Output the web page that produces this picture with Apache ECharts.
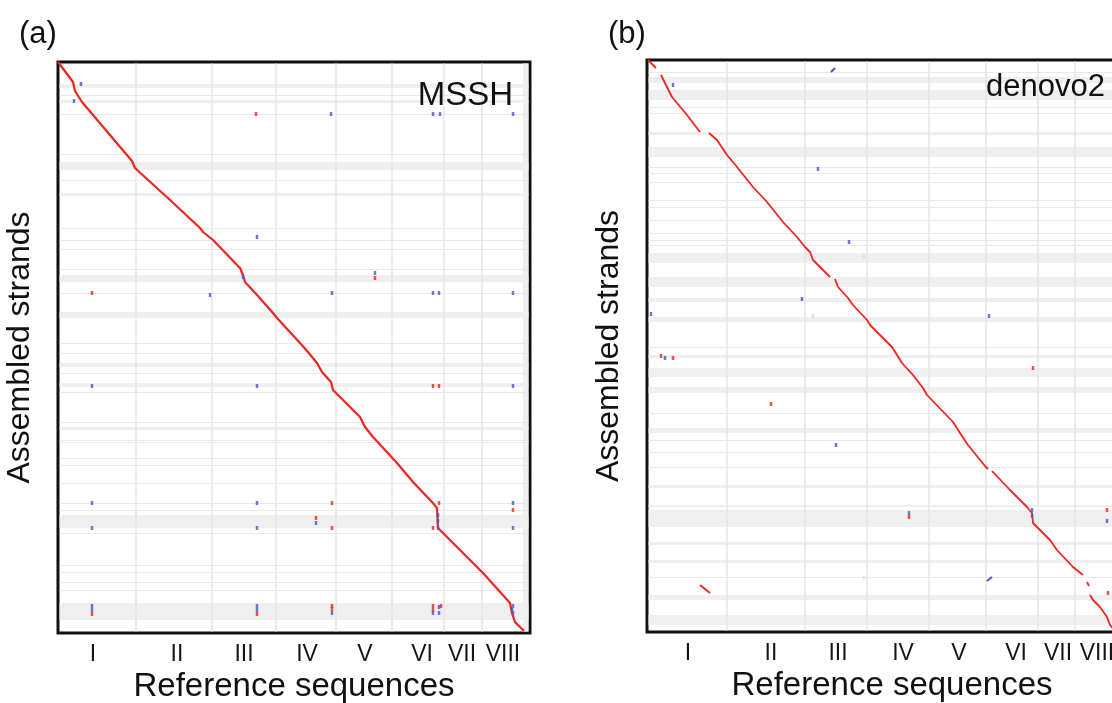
<!DOCTYPE html>
<html>
<head>
<meta charset="utf-8">
<script src="https://cdn.jsdelivr.net/npm/echarts@6/dist/echarts.min.js"></script>
<style>
html,body{margin:0;padding:0;background:#fff;}
#c{width:1112px;height:703px;}
</style>
</head>
<body>
<div id="c"></div>
<script>
// ---------- shared ----------
const chromNames = ['I','II','III','IV','V','VI','VII','VIII'];

// ---------- panel (a) MSSH ----------
const chromEndsA = [78, 154, 218, 278, 334, 386, 424, 465];
const tickPosA = [35, 119, 186, 249, 307, 364, 404, 445];
const xMaxA = 472, yMaxA = 571;
const diagA = [[0,0],[15,20],[17,29],[24,40],[74,99],[77,106],[112,138],[142,166],[145,170],[155,178],[182,206],[185,213],[187,220],[199,233],[215,251],[219,256],[242,281],[250,290],[254,295],[259,301],[264,310],[273,320],[275,328],[302,355],[307,365],[315,375],[339,401],[355,420],[374,440],[379,446],[380,466],[385,471],[425,511],[452,541],[454,551],[457,560],[466,569]];
const blueA = [[23,22],[16,39],[273,52],[375,52],[382,52],[455,52],[199,175],[185,215],[317,211],[152,233],[274,231],[375,231],[381,231],[455,231],[34,324],[199,324],[455,324],[34,441],[199,441],[455,441],[258,461],[34,466],[199,466],[380,466],[455,466],[380,453],[380,459],[34,544],[34,548],[199,544],[199,548],[274,551],[375,551],[381,545],[381,551],[455,544],[455,551],[454,548]];
const redA = [[198,52],[317,216],[34,231],[375,324],[381,324],[274,441],[381,441],[455,448],[258,456],[274,466],[375,466],[34,552],[199,552],[274,544],[274,547],[375,544],[375,548],[383,544]];
const hLinesA = [33,52,92,118,166,178,187,207,231,281,291,311,330,360,378,380,396,403,421,441,448,471,503,510,520,528];
const hBandsA = [[22,26],[38,41],[100,108],[131,134],[213,220],[250,256],[301,305],[321,325],[365,368],[453,466],[541,558]];

// ---------- panel (b) denovo2 ----------
const chromEndsB = [80, 158, 220, 282, 339, 391, 428, 469];
const tickPosB = [41, 124, 191, 256, 312, 369, 411, 450];
const xMaxB = 476, yMaxB = 572;
const diagB = [[1,0],[9,8],null,[14,15],[25,37],[30,43],[40,55],[53,72],null,[62,73],[70,80],[80,95],[90,107],[106,127],[120,142],[136,162],[150,177],[158,187],[163,192],[166,200],[183,217],null,[188,219],[191,227],[201,238],[206,245],[220,260],[223,265],[245,287],[255,303],[266,315],[276,328],[280,335],[306,362],[313,373],[321,385],[338,406],[341,409],null,[345,411],[363,430],[380,447],[385,453],[386,463],[391,468],[403,480],[410,490],[426,507],[436,515],null,[440,522],[442,526],null,[443,535],[446,540],[453,547],[460,557],[463,565],[469,572]];
const redStreakB = [[53,525],[63,533]];
const blueStreaksB = [[184,12],[188,8],null,[340,521],[345,517]];
const blueB = [[26,25],[171,109],[202,182],[155,239],[4,254],[342,256],[18,298],[189,385],[262,453],[385,450],[385,456],[460,461]];
const redB = [[14,296],[26,298],[386,308],[124,344],[262,457],[460,450],[461,533]];
const faintB = [[217,196],[166,256],[217,518]];
const hLinesB = [12,47,53,107,113,122,140,147,160,173,180,185,287,353,380,392,407,517];
const hBandsB = [[17,23],[30,40],[72,75],[87,97],[193,203],[217,227],[238,242],[257,262],[295,298],[308,317],[327,333],[368,373],[425,428],[445,447],[450,467],[482,485],[500,503],[535,540],[555,565]];

// ---------- option building ----------
const FONT = 'Liberation Sans, Arial, Helvetica, sans-serif';
const RED = '#f2231d', BLUE = '#4a55c8';
const INSET = 1.6; // keep background marks inside the thick frame

function xAxisFor(idx, max, ticks, namePad) {
  return {
    gridIndex: idx, type: 'value', min: 0, max: max,
    axisLine: {show: false}, axisTick: {show: false}, splitLine: {show: false},
    axisLabel: {
      customValues: ticks,
      formatter: function (v) { const i = ticks.indexOf(v); return i >= 0 ? chromNames[i] : ''; },
      fontSize: 23, color: '#161616', margin: 10, fontFamily: FONT
    },
    name: 'Reference sequences', nameLocation: 'middle', nameGap: 37,
    nameTextStyle: {fontSize: 33, color: '#111', fontFamily: FONT, padding: namePad}
  };
}
function yAxisFor(idx, max) {
  return {
    gridIndex: idx, type: 'value', min: 0, max: max, inverse: true,
    axisLine: {show: false}, axisTick: {show: false}, splitLine: {show: false},
    axisLabel: {show: false},
    name: 'Assembled strands', nameLocation: 'middle', nameRotate: 90, nameGap: 22,
    nameTextStyle: {fontSize: 32, color: '#111', fontFamily: FONT}
  };
}
function bgSeries(idx, hLines, hBands, ends, xMax, yMax) {
  const vLines = ends.slice(0, ends.length - 1).map(v => [{xAxis: v, yAxis: INSET}, {xAxis: v, yAxis: yMax - INSET}]);
  const hL = hLines.map(v => [{xAxis: INSET, yAxis: v}, {xAxis: xMax - INSET, yAxis: v}]);
  const areas = hBands.map(b => [{xAxis: INSET, yAxis: b[0]}, {xAxis: xMax - INSET, yAxis: b[1]}]);
  areas.push([{xAxis: ends[ends.length - 1], yAxis: INSET}, {xAxis: xMax - INSET, yAxis: yMax - INSET}]);
  return [
    {
      type: 'scatter', xAxisIndex: idx, yAxisIndex: idx, data: [[0, 0]], symbolSize: 0, silent: true, z: 1,
      markArea: {silent: true, itemStyle: {color: '#efefef'}, data: areas},
    },
    {
      type: 'scatter', xAxisIndex: idx, yAxisIndex: idx, data: [[0, 0]], symbolSize: 0, silent: true, z: 2,
      markLine: {silent: true, symbol: 'none', label: {show: false}, animation: false,
        lineStyle: {color: '#e9e9e9', width: 1, type: 'solid'}, data: hL}
    },
    {
      type: 'scatter', xAxisIndex: idx, yAxisIndex: idx, data: [[0, 0]], symbolSize: 0, silent: true, z: 2,
      markLine: {silent: true, symbol: 'none', label: {show: false}, animation: false,
        lineStyle: {color: '#e6e6e6', width: 1.5, type: 'solid'}, data: vLines}
    }
  ];
}
function lineSeries(idx, data, color, z, w) {
  return {type: 'line', xAxisIndex: idx, yAxisIndex: idx, data: data, showSymbol: false, symbol: 'none',
    connectNulls: false, lineStyle: {color: color, width: w || 2}, z: z, animation: false, silent: true};
}
function dotSeries(idx, data, color, z) {
  return {type: 'scatter', xAxisIndex: idx, yAxisIndex: idx, data: data, symbol: 'rect', symbolSize: [2.5, 4],
    itemStyle: {color: color}, z: z, animation: false, silent: true};
}

const option = {
  backgroundColor: '#fff',
  animation: false,
  textStyle: {fontFamily: FONT},
  title: [
    {text: '(a)', left: 14, top: 14, textStyle: {fontSize: 31, fontWeight: 'normal', color: '#111', fontFamily: FONT}},
    {text: '(b)', left: 603, top: 14, textStyle: {fontSize: 31, fontWeight: 'normal', color: '#111', fontFamily: FONT}},
    {text: 'MSSH', right: 594, top: 74, textStyle: {fontSize: 33, fontWeight: 'normal', color: '#111', fontFamily: FONT}},
    {text: 'denovo2', left: 981, top: 67, textStyle: {fontSize: 31, fontWeight: 'normal', color: '#111', fontFamily: FONT}}
  ],
  grid: [
    {left: 58, top: 62, width: 472, height: 571, show: true, borderColor: '#111', borderWidth: 3, backgroundColor: '#fff', outerBoundsMode: 'none', containLabel: false},
    {left: 647, top: 60, width: 476, height: 572, show: true, borderColor: '#111', borderWidth: 3, backgroundColor: '#fff', outerBoundsMode: 'none', containLabel: false}
  ],
  xAxis: [xAxisFor(0, xMaxA, tickPosA, [0,0,0,0]), xAxisFor(1, xMaxB, tickPosB, [0,0,0,14])],
  yAxis: [yAxisFor(0, yMaxA), yAxisFor(1, yMaxB)],
  series: [].concat(
    bgSeries(0, hLinesA, hBandsA, chromEndsA, xMaxA, yMaxA),
    [lineSeries(0, diagA, RED, 5, 2.2), dotSeries(0, redA, RED, 6), dotSeries(0, blueA, BLUE, 6)],
    bgSeries(1, hLinesB, hBandsB, chromEndsB, xMaxB, yMaxB),
    [lineSeries(1, diagB, RED, 5, 1.8), lineSeries(1, redStreakB, RED, 5), lineSeries(1, blueStreaksB, BLUE, 5),
     dotSeries(1, redB, RED, 6), dotSeries(1, blueB, BLUE, 6), dotSeries(1, faintB, '#dcdce8', 4)]
  )
};

const chart = echarts.init(document.getElementById('c'), null, {renderer: 'canvas'});
chart.setOption(option);
</script>
</body>
</html>
